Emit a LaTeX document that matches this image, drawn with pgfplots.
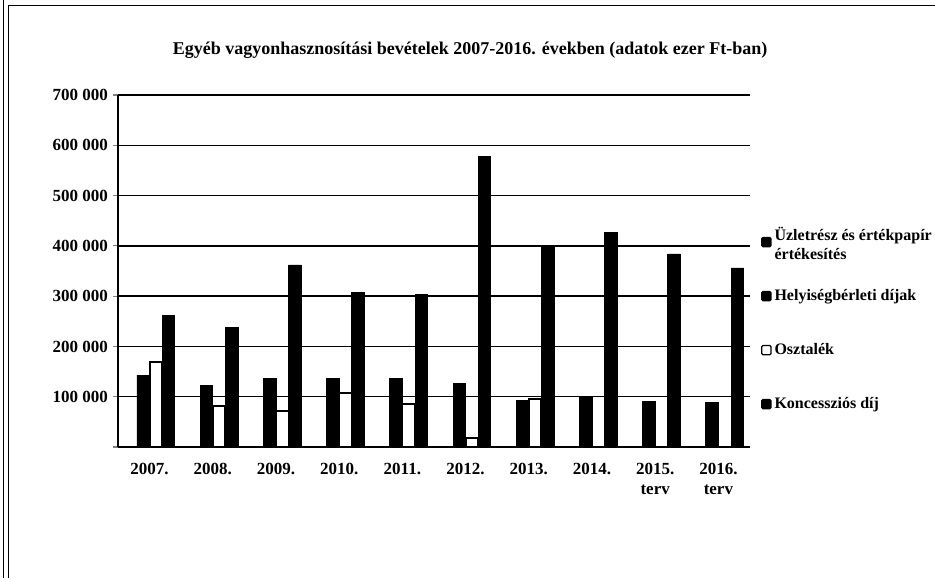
\documentclass[border=0pt]{standalone}
\usepackage{fontspec}
\setmainfont{Liberation Serif}
\usepackage{pgfplots}
\pgfplotsset{compat=1.18}

\pgfplotsset{
  sq/.style={legend image code/.code={
    \draw[##1, line width=0.6pt, rounded corners=0.6pt] (0pt,-2.3pt) rectangle (4.6pt,2.3pt);}},
}

\begin{document}
\begin{tikzpicture}
\useasboundingbox (0,0) rectangle (467.5pt,289pt);
% frame of the scanned chart
\draw[line width=0.5pt] (1.5pt,0) -- (1.5pt,289pt);
\draw[line width=0.5pt] (4pt,0) -- (4pt,286pt) -- (467.5pt,286pt);
\begin{axis}[
  at={(59pt,65.5pt)}, anchor=south west,
  scale only axis, width=316pt, height=176pt,
  font=\bfseries\fontsize{8.5}{10}\selectfont,
  ybar=0pt, bar width=6.3pt,
  xmin=-0.5, xmax=9.5, ymin=0, ymax=700000,
  axis lines=left, axis line style={-, line width=0.7pt},
  xtick={0,...,9},
  xticklabels={2007.,2008.,2009.,2010.,2011.,2012.,2013.,2014.,{2015.\\terv},{2016.\\terv}},
  xticklabel style={align=center, yshift=-2pt},
  xtick style={draw=none},
  ytick={0,100000,...,700000},
  yticklabels={,100 000,200 000,300 000,400 000,500 000,600 000,700 000},
  yticklabel style={xshift=1pt},
  scaled y ticks=false,
  tick align=outside, major tick length=2.5pt,
  ytick style={line width=0.6pt},
  ymajorgrids, grid style={black, line width=0.7pt},
  title={Egyéb vagyonhasznosítási bevételek 2007-2016. években (adatok ezer Ft-ban)},
  title style={at={(0.557,1.094)}, anchor=center, yshift=0pt,
    font=\bfseries\fontsize{9}{11}\selectfont},
  legend cell align=left,
  legend style={at={(1.017,0.62)}, anchor=north west, draw=none, fill=none,
    inner sep=0pt, row sep=14pt, cells={minimum height=13pt},
    nodes={inner xsep=1.5pt},
    font=\bfseries\fontsize{8}{9.6}\selectfont},
]
\addplot[sq, fill=black, draw=black] coordinates
  {(0,0)(1,0)(2,0)(3,0)(4,0)(5,0)(6,0)(7,0)(8,0)(9,0)};
\addlegendentry{\smash{\begin{tabular}[t]{@{}l@{}}Üzletrész és értékpapír\\értékesítés\end{tabular}}}
\addplot[sq, fill=black, draw=black] coordinates
  {(0,143000)(1,123000)(2,137000)(3,137000)(4,137000)(5,127000)(6,93000)(7,99000)(8,91000)(9,89000)};
\addlegendentry{Helyiségbérleti díjak}
\addplot[sq, fill=white, draw=black, line width=1pt] coordinates
  {(0,169000)(1,82000)(2,72000)(3,108000)(4,85000)(5,18000)(6,95000)(7,0)(8,0)(9,0)};
\addlegendentry{Osztalék}
\addplot[sq, fill=black, draw=black] coordinates
  {(0,262000)(1,237000)(2,362000)(3,308000)(4,304000)(5,577000)(6,401000)(7,427000)(8,384000)(9,356000)};
\addlegendentry{Koncessziós díj}
\end{axis}
\end{tikzpicture}
\end{document}
